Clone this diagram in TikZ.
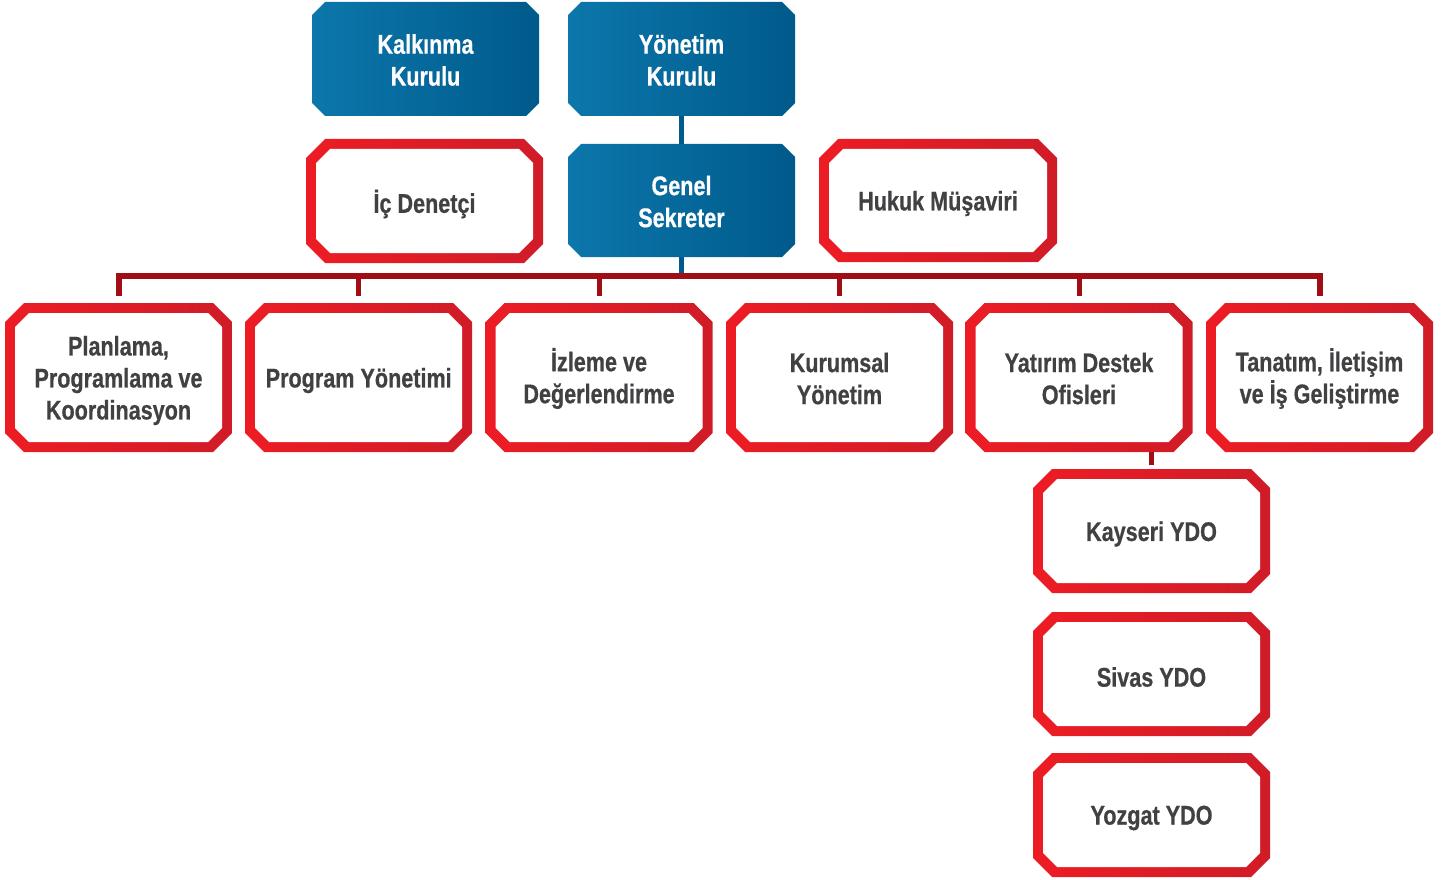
\documentclass[tikz,border=0pt]{standalone}
\usepackage{fontspec}
\setmainfont{Liberation Sans}[FakeStretch=0.8]
\newfontfamily\boxfont{Liberation Sans}[FakeStretch=0.8, FakeBold=0.6]
\usetikzlibrary{calc,backgrounds}
\definecolor{blueL}{HTML}{0C77AB}
\definecolor{blueR}{HTML}{005A8B}
\definecolor{redL}{HTML}{ED1C24}
\definecolor{redR}{HTML}{D01C27}
\definecolor{barred}{HTML}{A00D15}
\definecolor{txt}{HTML}{414143}
% octagon: #1 style, #2 centre, #3 half width, #4 half height, #5 chamfer
\newcommand\octo[5]{%
  \path[#1] #2 ++({-(#3)+(#5)},{-(#4)}) -- ++({2*(#3)-2*(#5)},0) -- ++(#5,#5)
    -- ++(0,{2*(#4)-2*(#5)}) -- ++(-#5,#5) -- ++({-2*(#3)+2*(#5)},0)
    -- ++(-#5,-#5) -- ++(0,{-2*(#4)+2*(#5)}) -- cycle;}
% red framed octagon: #1 centre, #2 outer half width, #3 outer half height
\newcommand\redocto[3]{%
  \octo{left color=redL, right color=redR}{#1}{#2}{#3}{19}%
  \octo{fill=white}{#1}{#2-10}{#3-10}{14}}
\tikzset{
  boxtext/.style={draw=none, inner sep=0pt, outer sep=0pt, align=center,
    font=\boxfont\fontsize{27}{32}\selectfont\bfseries},
  bluebox/.style={boxtext, text=white, minimum width=227pt, minimum height=114pt},
  redbox/.style={boxtext, text=txt},
  rowbox/.style={redbox, minimum width=227pt, minimum height=149pt},
  ydobox/.style={redbox, minimum width=237pt, minimum height=124pt},
  bar/.style={draw=barred, line width=6pt},
  drop/.style={draw=barred, line width=5pt},
  blueline/.style={draw=blueR, line width=5pt},
}
\begin{document}
\begin{tikzpicture}[x=1pt,y=-1pt]
\useasboundingbox (0,0) rectangle (1448,880);
% top row (blue)
\node[bluebox] (kk) at (425.5,60) {Kalkınma\\Kurulu};
\node[bluebox] (yk) at (681.5,60) {Yönetim\\Kurulu};
\node[bluebox, minimum height=113pt] (gs) at (681.5,201.5) {Genel\\Sekreter};
% red boxes (text centre slightly below frame centre)
\node[redbox, minimum width=237pt, minimum height=124pt] (ic) at (424.5,204) {İç Denetçi};
\node[redbox, minimum width=238pt, minimum height=123pt] (hm) at (938,203.5) {Hukuk Müşaviri};
\node[rowbox] (b1) at (118.5,380.5) {Planlama,\\Programlama ve\\Koordinasyon};
\node[rowbox] (b2) at (358.7,380.5) {Program Yönetimi};
\node[rowbox] (b3) at (599,378.5) {İzleme ve\\Değerlendirme};
\node[rowbox] (b4) at (839.5,378.5) {Kurumsal\\Yönetim};
\node[rowbox] (b5) at (1079,378.5) {Yatırım Destek\\Ofisleri};
\node[rowbox] (b6) at (1319.5,378.5) {Tanatım, İletişim\\ve İş Geliştirme};
\node[ydobox] (ky) at (1151.5,534) {Kayseri YDO};
\node[ydobox] (sv) at (1151.5,677) {Sivas YDO};
\node[ydobox] (yz) at (1151.5,818) {Yozgat YDO};
\begin{pgfonlayer}{background}
  \foreach \n in {kk,yk}{\octo{left color=blueL, right color=blueR}{([yshift=1pt]\n.center)}{113.5}{57}{13}}
  \octo{left color=blueL, right color=blueR}{([yshift=1pt]gs.center)}{113.5}{56.5}{13}
  \redocto{([yshift=3pt]ic.center)}{118.5}{62}
  \redocto{([yshift=3pt]hm.center)}{119}{61.5}
  \foreach \n in {b1,b2}{\redocto{([yshift=3pt]\n.center)}{113.5}{74.5}}
  \foreach \n in {b3,b4,b5,b6}{\redocto{([yshift=1pt]\n.center)}{113.5}{74.5}}
  \foreach \n in {ky,sv,yz}{\redocto{([yshift=3pt]\n.center)}{118.5}{62}}
\end{pgfonlayer}
% connectors
\coordinate (bus) at (681.5,276);
\coordinate (tip) at (681.5,296);
\coordinate (ytop) at (681.5,116);
\coordinate (gtop) at (681.5,144);
\coordinate (gbot) at (681.5,257);
\draw[blueline] (yk |- ytop) -- (gs |- gtop);
\draw[blueline] (gs |- gbot) -- ($(gs |- bus)+(0,-3)$);
\draw[bar] (b1 |- tip) -- (b1 |- bus) -- (b6 |- bus) -- (b6 |- tip);
\foreach \b in {b2,b3,b4,b5}{
  \draw[drop] (\b |- tip) -- (\b |- bus);
}
\coordinate (ysb) at (1151.5,452);
\coordinate (kyt) at (1151.5,465);
\draw[drop] (ky |- ysb) -- (ky |- kyt);
\end{tikzpicture}
\end{document}
